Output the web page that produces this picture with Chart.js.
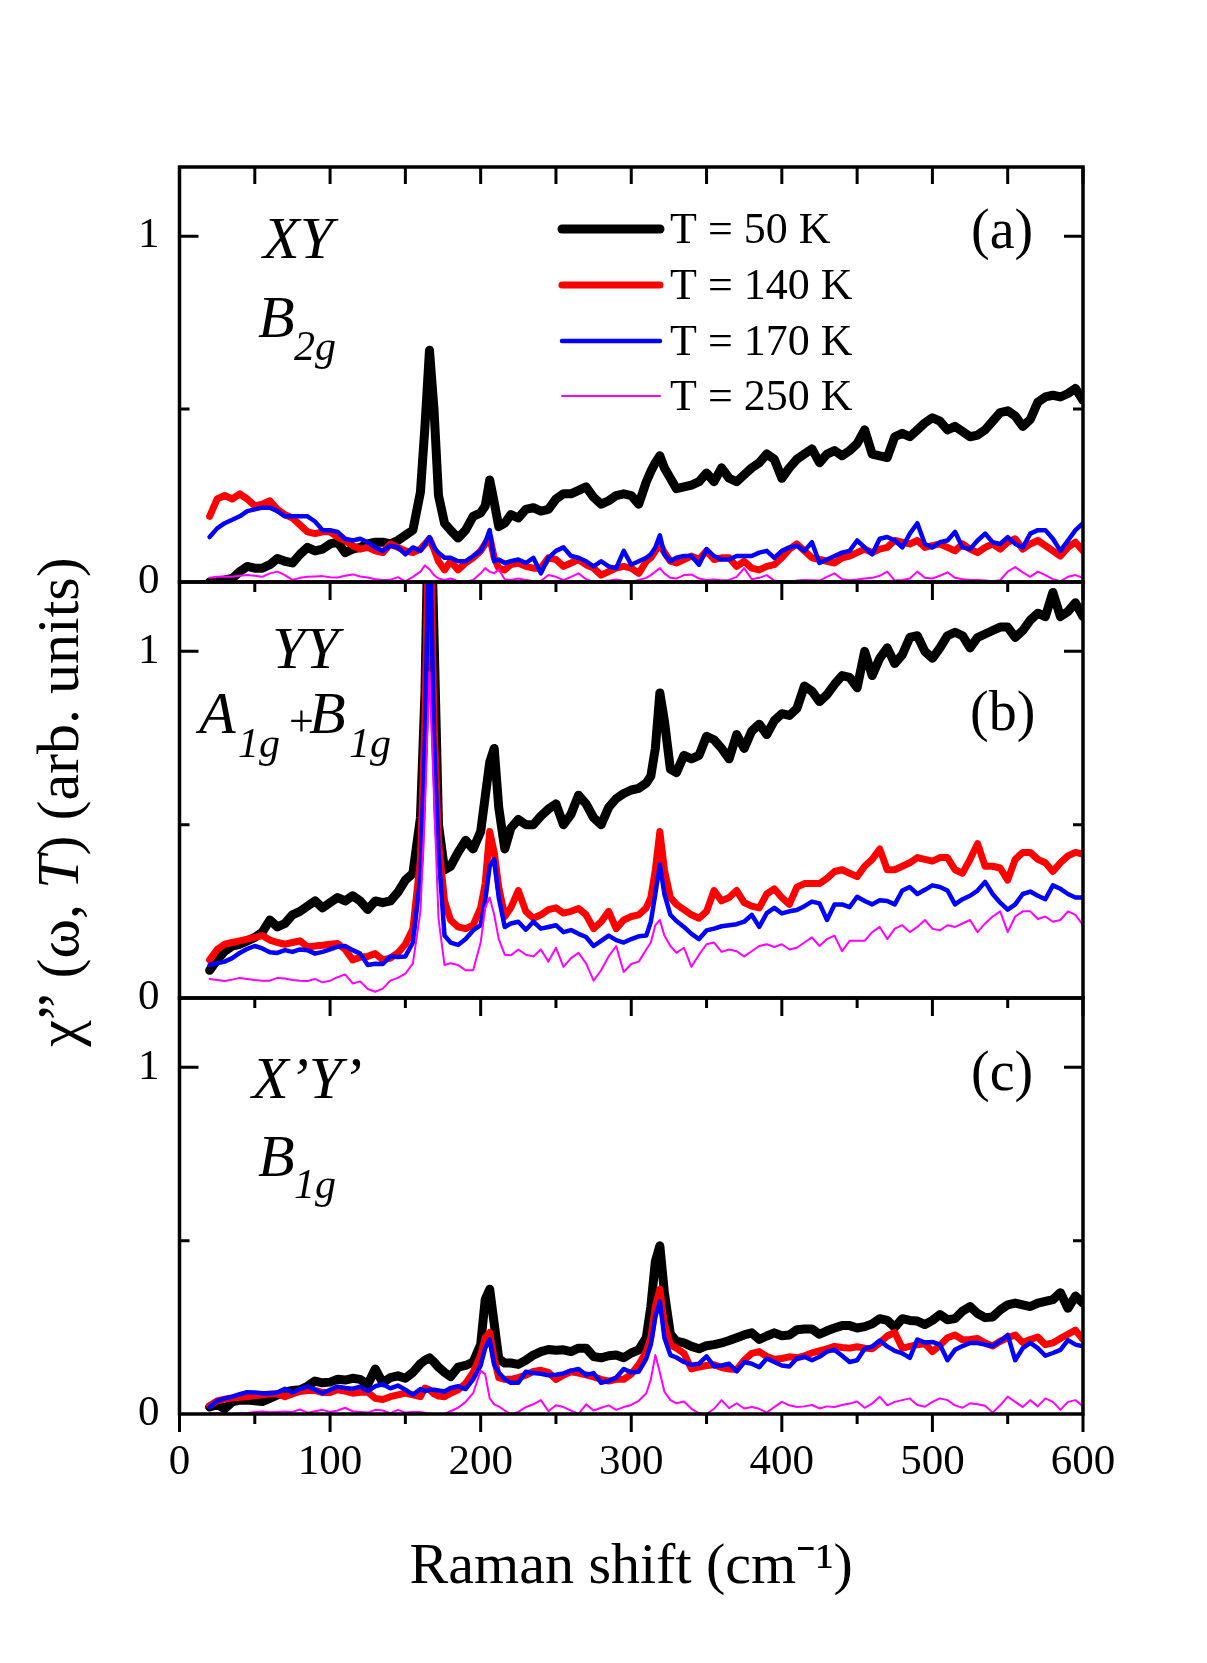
<!DOCTYPE html>
<html>
<head>
<meta charset="utf-8">
<script src="https://cdn.jsdelivr.net/npm/chart.js@4.4.1/dist/chart.umd.min.js"></script>
<style>
  html, body { margin: 0; padding: 0; background: #fff; }
  #wrap { position: relative; width: 1207px; height: 1663px; }
  #wrap canvas { position: absolute; left: 0; top: 0; }
</style>
</head>
<body>
<div id="wrap">
  <canvas id="chartA" width="1207" height="1663"></canvas>
  <canvas id="chartB" width="1207" height="1663"></canvas>
  <canvas id="chartC" width="1207" height="1663"></canvas>
</div>
<script>
// Raman shift grid (cm-1), shared by every spectrum
const ramanShift = [
  20, 25, 30, 35, 40, 45, 50, 55, 60, 65,
  70, 75, 80, 85, 90, 95, 100, 105, 110, 115,
  120, 125, 130, 135, 140, 145, 150, 155, 160,
  163, 166, 169, 172, 176,
  180, 185, 190, 195, 200,
  203, 206, 209, 212, 216,
  220, 225, 230, 235, 240, 245, 250, 255, 260, 265,
  270, 275, 280, 285, 290, 295, 300, 305, 310,
  313, 316, 319, 322, 326,
  330, 335, 340, 345, 350, 355, 360, 365, 370, 375, 380,
  385, 390, 395, 400, 405, 410, 415, 420, 425, 430, 435,
  440, 445, 450, 455, 460, 465, 470, 475, 480, 485, 490,
  495, 500, 505, 510, 515, 520, 525, 530, 535, 540, 545,
  550, 555, 560, 565, 570, 575, 580, 585, 590, 595, 600
];

const temperatures = ["T = 50 K", "T = 140 K", "T = 170 K", "T = 250 K"];

// (a) XY, B2g
const xy50 = [
  0.00, 0.003, 0.006, 0.01, 0.03, 0.045, 0.04, 0.04, 0.05, 0.068,
  0.06, 0.055, 0.08, 0.10, 0.09, 0.095, 0.11, 0.115, 0.085, 0.095,
  0.10, 0.11, 0.115, 0.115, 0.11, 0.12, 0.135, 0.15, 0.26,
  0.45, 0.67, 0.50, 0.25, 0.17,
  0.15, 0.127, 0.15, 0.19, 0.20,
  0.22, 0.295, 0.23, 0.16, 0.17,
  0.195, 0.185, 0.21, 0.215, 0.205, 0.21, 0.24, 0.255, 0.255, 0.265,
  0.275, 0.245, 0.225, 0.235, 0.25, 0.255, 0.25, 0.225, 0.29,
  0.32, 0.345, 0.365, 0.33, 0.30,
  0.27, 0.275, 0.28, 0.29, 0.315, 0.29, 0.33, 0.30, 0.29, 0.31, 0.33,
  0.345, 0.37, 0.355, 0.30, 0.33, 0.355, 0.37, 0.385, 0.345, 0.37, 0.38,
  0.365, 0.38, 0.40, 0.44, 0.37, 0.365, 0.36, 0.42, 0.43, 0.42, 0.44,
  0.46, 0.475, 0.465, 0.44, 0.45, 0.435, 0.42, 0.425, 0.44, 0.465, 0.49,
  0.495, 0.48, 0.45, 0.47, 0.52, 0.535, 0.54, 0.535, 0.545, 0.56, 0.525
];
const xy140 = [
  0.19, 0.24, 0.25, 0.24, 0.255, 0.24, 0.22, 0.225, 0.235, 0.21,
  0.195, 0.185, 0.165, 0.145, 0.14, 0.145, 0.145, 0.13, 0.12, 0.105,
  0.095, 0.10, 0.09, 0.085, 0.11, 0.10, 0.09, 0.085, 0.095,
  0.11, 0.125, 0.095, 0.06, 0.035,
  0.06, 0.035, 0.055, 0.07, 0.09,
  0.11, 0.13, 0.07, 0.04, 0.035,
  0.05, 0.055, 0.045, 0.04, 0.04, 0.07, 0.065, 0.045, 0.055, 0.065,
  0.05, 0.04, 0.02, 0.03, 0.04, 0.045, 0.04, 0.025, 0.06,
  0.07, 0.09, 0.11, 0.085, 0.06,
  0.055, 0.065, 0.075, 0.065, 0.09, 0.065, 0.07, 0.07, 0.045, 0.06, 0.04,
  0.035, 0.045, 0.05, 0.07, 0.095, 0.11, 0.09, 0.07, 0.065, 0.06, 0.055,
  0.07, 0.075, 0.085, 0.095, 0.085, 0.095, 0.10, 0.12, 0.115, 0.11, 0.12,
  0.10, 0.105, 0.11, 0.10, 0.09, 0.11, 0.095, 0.085, 0.10, 0.11, 0.095,
  0.115, 0.125, 0.095, 0.11, 0.12, 0.105, 0.09, 0.075, 0.10, 0.115, 0.09
];
const xy170 = [
  0.13, 0.155, 0.17, 0.18, 0.19, 0.205, 0.21, 0.215, 0.215, 0.205,
  0.19, 0.19, 0.19, 0.19, 0.175, 0.15, 0.15, 0.145, 0.125, 0.12,
  0.125, 0.115, 0.10, 0.09, 0.105, 0.10, 0.08, 0.10, 0.09,
  0.11, 0.13, 0.10, 0.085, 0.07,
  0.07, 0.06, 0.06, 0.075, 0.09,
  0.115, 0.15, 0.06, 0.065, 0.055,
  0.06, 0.065, 0.055, 0.07, 0.025, 0.07, 0.09, 0.10, 0.075, 0.07,
  0.06, 0.045, 0.06, 0.045, 0.04, 0.09, 0.05, 0.06, 0.07,
  0.08, 0.10, 0.135, 0.08, 0.06,
  0.07, 0.075, 0.075, 0.05, 0.095, 0.075, 0.065, 0.065, 0.075, 0.075, 0.075,
  0.085, 0.09, 0.07, 0.09, 0.10, 0.105, 0.09, 0.115, 0.055, 0.065, 0.075,
  0.085, 0.09, 0.12, 0.10, 0.08, 0.125, 0.13, 0.12, 0.10, 0.14, 0.17,
  0.11, 0.10, 0.115, 0.12, 0.145, 0.10, 0.095, 0.12, 0.14, 0.115, 0.11,
  0.13, 0.11, 0.10, 0.14, 0.15, 0.15, 0.125, 0.09, 0.12, 0.15, 0.17
];
const xy250 = [
  0.012, 0.015, 0.016, 0.015, 0.018, 0.02, 0.018, 0.015, 0.025, 0.03,
  0.02, 0.006, 0.012, 0.015, 0.016, 0.017, 0.014, 0.013, 0.018, 0.022,
  0.016, 0.013, 0.008, 0.006, 0.006, 0.014, 0.002, 0.015, 0.03,
  0.048, 0.037, 0.02, 0.01, 0.006,
  0.01, 0.002, 0.0, 0.006, 0.025,
  0.04, 0.03, 0.025, 0.036, 0.008,
  0.006, 0.01, 0.006, 0.002, 0.003, 0.02, 0.015, 0.005, 0.015, 0.025,
  0.008, 0.0, 0.002, 0.004, 0.007, 0.003, 0.0, 0.006, 0.012,
  0.02, 0.03, 0.04, 0.025, 0.012,
  0.01, 0.02, 0.022, 0.01, 0.006, 0.007, 0.005, 0.006, 0.015, 0.04, 0.008,
  0.012, 0.02, 0.004, 0.002, 0.0, 0.004, 0.006, 0.005, 0.004, 0.015, 0.025,
  0.008, 0.005, 0.007, 0.01, 0.012, 0.018, 0.03, 0.004, 0.006, 0.01, 0.03,
  0.012, 0.01, 0.018, 0.028, 0.012, 0.008, 0.006, 0.006, 0.004, 0.002, 0.005,
  0.03, 0.043, 0.028, 0.015, 0.03, 0.02, 0.008, 0.002, 0.015, 0.02, 0.012
];

// (b) YY, A1g+B1g
const yy50 = [
  0.08, 0.11, 0.135, 0.15, 0.155, 0.165, 0.175, 0.19, 0.225, 0.205,
  0.215, 0.24, 0.25, 0.265, 0.28, 0.26, 0.275, 0.29, 0.28, 0.295,
  0.28, 0.255, 0.28, 0.275, 0.28, 0.305, 0.34, 0.36, 0.52,
  0.88, 1.6, 1.05, 0.5, 0.37,
  0.38, 0.42, 0.455, 0.43, 0.48,
  0.58, 0.68, 0.72, 0.55, 0.43,
  0.49, 0.515, 0.50, 0.50, 0.525, 0.545, 0.56, 0.50, 0.53, 0.585,
  0.56, 0.52, 0.50, 0.55, 0.575, 0.59, 0.60, 0.605, 0.62,
  0.64, 0.72, 0.88, 0.80, 0.66,
  0.65, 0.70, 0.69, 0.70, 0.755, 0.745, 0.72, 0.69, 0.76, 0.72, 0.77,
  0.79, 0.76, 0.80, 0.82, 0.815, 0.835, 0.90, 0.885, 0.855, 0.875, 0.905,
  0.93, 0.925, 0.895, 1.0, 0.93, 0.98, 1.01, 0.965, 0.99, 1.04, 1.045,
  1.0, 0.98, 1.01, 1.045, 1.055, 1.045, 1.01, 1.04, 1.05, 1.06, 1.07,
  1.07, 1.04, 1.06, 1.09, 1.11, 1.10, 1.17, 1.10, 1.115, 1.14, 1.10
];
const yy140 = [
  0.11, 0.14, 0.155, 0.16, 0.165, 0.17, 0.175, 0.18, 0.167, 0.16,
  0.155, 0.16, 0.165, 0.147, 0.15, 0.152, 0.155, 0.157, 0.14, 0.11,
  0.118, 0.12, 0.128, 0.11, 0.115, 0.13, 0.155, 0.20, 0.40,
  0.80, 1.5, 0.80, 0.45, 0.28,
  0.225, 0.205, 0.20, 0.21, 0.26,
  0.33, 0.48, 0.42, 0.32, 0.235,
  0.26, 0.31, 0.25, 0.23, 0.24, 0.255, 0.26, 0.245, 0.25, 0.258,
  0.24, 0.20, 0.22, 0.25, 0.20, 0.225, 0.235, 0.24, 0.26,
  0.29, 0.37, 0.48, 0.37, 0.29,
  0.27, 0.255, 0.24, 0.23, 0.25, 0.31, 0.28, 0.29, 0.31, 0.275, 0.265,
  0.26, 0.30, 0.315, 0.29, 0.27, 0.32, 0.33, 0.33, 0.33, 0.345, 0.365,
  0.37, 0.36, 0.35, 0.38, 0.40, 0.43, 0.37, 0.37, 0.38, 0.39, 0.405,
  0.40, 0.395, 0.405, 0.405, 0.37, 0.36, 0.40, 0.445, 0.38, 0.38, 0.375,
  0.34, 0.40, 0.42, 0.42, 0.40, 0.39, 0.365, 0.39, 0.41, 0.42, 0.415
];
const yy170 = [
  0.095, 0.10, 0.105, 0.115, 0.13, 0.142, 0.15, 0.143, 0.132, 0.13,
  0.138, 0.133, 0.14, 0.138, 0.128, 0.133, 0.14, 0.148, 0.15, 0.138,
  0.128, 0.095, 0.099, 0.098, 0.12, 0.118, 0.12, 0.16, 0.35,
  0.75, 1.4, 0.75, 0.42, 0.18,
  0.16, 0.153, 0.17, 0.195, 0.21,
  0.28, 0.38, 0.40, 0.29, 0.205,
  0.215, 0.22, 0.197, 0.22, 0.20, 0.205, 0.21, 0.19, 0.196, 0.185,
  0.176, 0.15, 0.165, 0.18, 0.167, 0.16, 0.17, 0.178, 0.18,
  0.22, 0.30, 0.385, 0.30, 0.24,
  0.222, 0.205, 0.185, 0.17, 0.195, 0.20, 0.207, 0.21, 0.213, 0.22, 0.24,
  0.205, 0.245, 0.26, 0.244, 0.25, 0.254, 0.265, 0.278, 0.273, 0.225, 0.27,
  0.27, 0.262, 0.292, 0.28, 0.27, 0.282, 0.28, 0.27, 0.31, 0.32, 0.30,
  0.312, 0.325, 0.32, 0.31, 0.27, 0.285, 0.295, 0.31, 0.335, 0.30, 0.275,
  0.255, 0.27, 0.30, 0.307, 0.295, 0.285, 0.325, 0.315, 0.30, 0.29, 0.29
];
const yy250 = [
  0.055, 0.052, 0.049, 0.053, 0.058, 0.055, 0.052, 0.05, 0.05, 0.058,
  0.056, 0.052, 0.05, 0.049, 0.055, 0.045, 0.05, 0.06, 0.068, 0.042,
  0.048, 0.026, 0.018, 0.027, 0.05, 0.058, 0.07, 0.10, 0.25,
  0.55, 0.94, 0.58, 0.23, 0.095,
  0.10, 0.095, 0.08, 0.08, 0.16,
  0.26, 0.29, 0.24, 0.17, 0.125,
  0.123, 0.14, 0.125, 0.12, 0.14, 0.105, 0.145, 0.09, 0.115, 0.13,
  0.10, 0.05, 0.08, 0.12, 0.15, 0.075, 0.098, 0.105, 0.14,
  0.16, 0.21, 0.225, 0.18, 0.15,
  0.13, 0.145, 0.09, 0.125, 0.155, 0.16, 0.133, 0.14, 0.135, 0.12, 0.135,
  0.15, 0.155, 0.147, 0.155, 0.14, 0.145, 0.16, 0.175, 0.15, 0.17, 0.18,
  0.135, 0.165, 0.165, 0.165, 0.19, 0.205, 0.17, 0.20, 0.21, 0.19, 0.205,
  0.225, 0.20, 0.195, 0.21, 0.205, 0.215, 0.225, 0.19, 0.215, 0.235, 0.25,
  0.19, 0.235, 0.25, 0.25, 0.228, 0.235, 0.22, 0.225, 0.25, 0.24, 0.21
];

// (c) X'Y', B1g
const xpyp50 = [
  0.02, 0.027, 0.015, 0.035, 0.04, 0.04, 0.038, 0.036, 0.045, 0.055,
  0.063, 0.068, 0.07, 0.08, 0.095, 0.09, 0.092, 0.10, 0.098, 0.103,
  0.10, 0.085, 0.13, 0.09, 0.105, 0.11, 0.103, 0.12, 0.145,
  0.155, 0.162, 0.15, 0.135, 0.12,
  0.108, 0.135, 0.14, 0.15, 0.20,
  0.33, 0.36, 0.26, 0.16, 0.147,
  0.147, 0.143, 0.155, 0.17, 0.18, 0.186, 0.184, 0.185, 0.18, 0.19,
  0.19, 0.166, 0.162, 0.168, 0.17, 0.162, 0.176, 0.185, 0.22,
  0.31, 0.44, 0.485, 0.35, 0.23,
  0.21, 0.205, 0.195, 0.188, 0.197, 0.20, 0.205, 0.212, 0.22, 0.228, 0.234,
  0.215, 0.225, 0.234, 0.226, 0.228, 0.243, 0.245, 0.245, 0.23, 0.24, 0.248,
  0.255, 0.255, 0.248, 0.252, 0.26, 0.275, 0.27, 0.25, 0.275, 0.27, 0.268,
  0.258, 0.27, 0.287, 0.272, 0.275, 0.297, 0.31, 0.29, 0.278, 0.28, 0.30,
  0.315, 0.32, 0.315, 0.31, 0.32, 0.325, 0.33, 0.35, 0.305, 0.34, 0.32
];
const xpyp140 = [
  0.024, 0.038, 0.043, 0.046, 0.048, 0.05, 0.053, 0.055, 0.058, 0.058,
  0.05, 0.058, 0.065, 0.068, 0.068, 0.062, 0.062, 0.07, 0.066, 0.06,
  0.063, 0.063, 0.045, 0.042, 0.05, 0.055, 0.06, 0.055, 0.05,
  0.075, 0.07, 0.058, 0.052, 0.05,
  0.06, 0.07, 0.088, 0.12, 0.17,
  0.22, 0.235, 0.16, 0.105, 0.10,
  0.10, 0.105, 0.112, 0.123, 0.126, 0.12, 0.10, 0.112, 0.122, 0.118,
  0.113, 0.107, 0.10, 0.095, 0.10, 0.10, 0.115, 0.143, 0.18,
  0.22, 0.31, 0.36, 0.26, 0.20,
  0.19, 0.175, 0.13, 0.135, 0.14, 0.142, 0.134, 0.13, 0.128, 0.155, 0.175,
  0.18, 0.166, 0.158, 0.16, 0.165, 0.162, 0.168, 0.176, 0.182, 0.188, 0.195,
  0.192, 0.19, 0.194, 0.19, 0.188, 0.205, 0.225, 0.235, 0.19, 0.195, 0.20,
  0.203, 0.18, 0.198, 0.22, 0.228, 0.214, 0.215, 0.218, 0.205, 0.196, 0.21,
  0.22, 0.228, 0.206, 0.215, 0.222, 0.20, 0.205, 0.218, 0.23, 0.242, 0.215
];
const xpyp170 = [
  0.02, 0.038, 0.045, 0.05, 0.057, 0.063, 0.062, 0.06, 0.06, 0.062,
  0.073, 0.062, 0.072, 0.08, 0.07, 0.06, 0.07, 0.079, 0.075, 0.073,
  0.079, 0.066, 0.08, 0.086, 0.074, 0.082, 0.07, 0.056, 0.072,
  0.066, 0.07, 0.07, 0.068, 0.065,
  0.075, 0.08, 0.072, 0.10, 0.14,
  0.19, 0.215, 0.142, 0.12, 0.10,
  0.09, 0.09, 0.122, 0.118, 0.116, 0.112, 0.113, 0.117, 0.125, 0.13,
  0.113, 0.118, 0.09, 0.095, 0.105, 0.13, 0.12, 0.122, 0.16,
  0.20, 0.28, 0.325, 0.22, 0.17,
  0.163, 0.15, 0.142, 0.145, 0.166, 0.138, 0.14, 0.145, 0.123, 0.15, 0.145,
  0.135, 0.16, 0.15, 0.14, 0.137, 0.16, 0.165, 0.155, 0.165, 0.18, 0.185,
  0.168, 0.15, 0.155, 0.188, 0.195, 0.212, 0.195, 0.182, 0.175, 0.162, 0.215,
  0.206, 0.208, 0.20, 0.155, 0.185, 0.196, 0.205, 0.205, 0.20, 0.196, 0.21,
  0.228, 0.155, 0.19, 0.205, 0.19, 0.168, 0.176, 0.185, 0.213, 0.20, 0.195
];
const xpyp250 = [
  0.002, 0.002, 0.001, 0.0, 0.002, 0.003, 0.006, 0.007, 0.005, 0.006,
  0.007, 0.006, 0.013, 0.004, 0.008, 0.012, 0.006, 0.01, 0.018, 0.008,
  0.006, 0.004, 0.012, 0.01, 0.002, 0.012, 0.004, 0.006, 0.006,
  0.003, 0.001, 0.0, 0.001, 0.0,
  0.008, 0.018, 0.035, 0.06, 0.125,
  0.115, 0.045, 0.028, 0.022, 0.01,
  0.0, 0.006, 0.02, 0.028, 0.04, 0.008, 0.025, 0.02, 0.01, 0.0,
  0.028, 0.01, 0.018, 0.025, 0.012, 0.02, 0.026, 0.038, 0.06,
  0.10, 0.17, 0.12, 0.065, 0.04,
  0.031, 0.036, 0.015, 0.002, 0.0, 0.015, 0.04, 0.017, 0.031, 0.016, 0.02,
  0.015, 0.004, 0.02, 0.035, 0.025, 0.02, 0.022, 0.026, 0.016, 0.022, 0.02,
  0.026, 0.03, 0.036, 0.018, 0.03, 0.05, 0.025, 0.035, 0.04, 0.045, 0.026,
  0.021, 0.035, 0.045, 0.04, 0.025, 0.018, 0.031, 0.028, 0.024, 0.004, 0.025,
  0.05, 0.035, 0.02, 0.04, 0.022, 0.045, 0.035, 0.012, 0.035, 0.04, 0.022
];

// Axis ticks
const yTickValues = [0, 0.5, 1];
const yTickLabels = ["0", "", "1"];
const xTickMajor = [0, 100, 200, 300, 400, 500, 600];
const xTickMinor = [50, 150, 250, 350, 450, 550];

// Styles
const lineColors = ["#000000", "#ff0000", "#0000ff", "#ff00ff"];
const lineWidths = [9, 7, 4.5, 2];
const SERIF = '"Liberation Serif", "Times New Roman", serif';
const PAGE_W = 1207, PAGE_H = 1663;
const PLOT_LEFT = 179.5, PLOT_RIGHT = 1083;

Chart.defaults.font.family = SERIF;
Chart.defaults.color = "#000";

const panels = [
  {
    id: "chartA", top: 167, bottom: 582,
    series: [xy50, xy140, xy170, xy250],
    topTicks: true, legend: true,
    notes: [
      { text: "XY", x: 263, y: 258, font: "italic 60px " + SERIF },
      { text: "B", x: 258, y: 337, font: "italic 60px " + SERIF },
      { text: "2g", x: 294, y: 360, font: "italic 42px " + SERIF },
      { text: "(a)", x: 971, y: 248, font: "56px " + SERIF }
    ]
  },
  {
    id: "chartB", top: 582, bottom: 998,
    series: [yy50, yy140, yy170, yy250],
    yTitle: true,
    notes: [
      { text: "YY", x: 272, y: 668, font: "italic 60px " + SERIF },
      { text: "A", x: 199, y: 733, font: "italic 60px " + SERIF },
      { text: "1g", x: 238, y: 757, font: "italic 42px " + SERIF },
      { text: "+", x: 289, y: 736, font: "44px " + SERIF },
      { text: "B", x: 309, y: 733, font: "italic 60px " + SERIF },
      { text: "1g", x: 349, y: 757, font: "italic 42px " + SERIF },
      { text: "(b)", x: 970, y: 730, font: "56px " + SERIF }
    ]
  },
  {
    id: "chartC", top: 998, bottom: 1414,
    series: [xpyp50, xpyp140, xpyp170, xpyp250],
    showX: true,
    notes: [
      { text: "X\u2019Y\u2019", x: 252, y: 1098, font: "italic 60px " + SERIF },
      { text: "B", x: 258, y: 1176, font: "italic 60px " + SERIF },
      { text: "1g", x: 294, y: 1198, font: "italic 42px " + SERIF },
      { text: "(c)", x: 971, y: 1090, font: "56px " + SERIF }
    ]
  }
];

const legendRows = [229, 285, 341, 396];

// frame, inward ticks, notes, legend and y title
function makeDeco(p) {
  return {
    id: "deco" + p.id,
    afterDatasetsDraw(chart) {
      const { ctx, chartArea: a, scales: { x, y } } = chart;
      ctx.save();
      ctx.strokeStyle = "#000";
      ctx.lineWidth = 3.5;
      ctx.strokeRect(a.left, a.top, a.right - a.left, a.bottom - a.top);
      ctx.lineWidth = 3;
      ctx.beginPath();
      yTickValues.forEach((v, i) => {
        if (v === 0) return;
        const py = y.getPixelForValue(v);
        const len = yTickLabels[i] ? 19 : 10;
        ctx.moveTo(a.left, py); ctx.lineTo(a.left + len, py);
        ctx.moveTo(a.right, py); ctx.lineTo(a.right - len, py);
      });
      xTickMajor.forEach(v => {
        const px = x.getPixelForValue(v);
        ctx.moveTo(px, a.bottom); ctx.lineTo(px, a.bottom + 18);
      });
      xTickMinor.forEach(v => {
        const px = x.getPixelForValue(v);
        ctx.moveTo(px, a.bottom); ctx.lineTo(px, a.bottom + 10);
      });
      if (p.topTicks) {
        xTickMajor.concat(xTickMinor).forEach(v => {
          const px = x.getPixelForValue(v);
          ctx.moveTo(px, a.top); ctx.lineTo(px, a.top + 17);
        });
      }
      ctx.stroke();
      ctx.restore();
    },
    afterDraw(chart) {
      const ctx = chart.ctx;
      ctx.save();
      ctx.fillStyle = "#000";
      ctx.textAlign = "left";
      ctx.textBaseline = "alphabetic";
      p.notes.forEach(n => {
        ctx.font = n.font;
        ctx.fillText(n.text, n.x, n.y);
      });

      if (p.legend) {
        chart.data.datasets.forEach((ds, i) => {
          const yy = legendRows[i];
          ctx.strokeStyle = ds.borderColor;
          ctx.lineWidth = ds.borderWidth;
          ctx.lineCap = "round";
          ctx.beginPath();
          ctx.moveTo(562, yy);
          ctx.lineTo(660, yy);
          ctx.stroke();
          ctx.font = "44px " + SERIF;
          ctx.fillText(ds.label, 670, yy + 14);
        });
      }

      if (p.yTitle) {
        const runs = [
          { text: "\u03C7\u201D (\u03C9, ", font: "60px " + SERIF },
          { text: "T", font: "italic 60px " + SERIF },
          { text: ") (arb. units)", font: "60px " + SERIF }
        ];
        let total = 0;
        runs.forEach(r => { ctx.font = r.font; r.w = ctx.measureText(r.text).width; total += r.w; });
        ctx.translate(62, 802);
        ctx.rotate(-Math.PI / 2);
        ctx.textBaseline = "middle";
        let cx = -total / 2;
        runs.forEach(r => {
          ctx.font = r.font;
          ctx.fillText(r.text, cx, 0);
          cx += r.w;
        });
      }
      ctx.restore();
    }
  };
}

function createPanel(p) {
  const showX = !!p.showX;
  return new Chart(document.getElementById(p.id), {
    type: "line",
    data: {
      datasets: temperatures.map((label, i) => ({
        label: label,
        data: ramanShift.map((x, k) => ({ x: x, y: p.series[i][k] })),
        borderColor: lineColors[i],
        borderWidth: lineWidths[i],
        borderJoinStyle: "round",
        borderCapStyle: "round",
        pointRadius: 0,
        fill: false,
        tension: 0,
        order: temperatures.length - i
      }))
    },
    options: {
      responsive: false,
      animation: false,
      events: [],
      layout: {
        padding: { left: 0, right: PAGE_W - PLOT_RIGHT, top: p.top, bottom: showX ? 0 : PAGE_H - p.bottom }
      },
      plugins: {
        legend: { display: false },
        tooltip: { enabled: false }
      },
      scales: {
        x: {
          type: "linear",
          min: 0,
          max: 600,
          display: showX,
          grid: { display: false, drawTicks: false },
          border: { display: false },
          ticks: { stepSize: 100, padding: 23, maxRotation: 0, autoSkip: false, color: "#000", font: { size: 43 } },
          title: {
            display: showX,
            text: "Raman shift (cm\u207B\u00B9)",
            color: "#000",
            font: { size: 58 },
            padding: { top: 0, bottom: 60 }
          },
          afterFit: s => { if (showX) s.height = PAGE_H - p.bottom; }
        },
        y: {
          type: "linear",
          min: 0,
          max: 1.2,
          grid: { display: false, drawTicks: false },
          border: { display: false },
          afterBuildTicks: s => { s.ticks = yTickValues.map(v => ({ value: v })); },
          afterFit: s => { s.width = PLOT_LEFT; },
          ticks: {
            padding: 20,
            color: "#000",
            font: { size: 43 },
            callback: v => yTickLabels[yTickValues.indexOf(v)]
          }
        }
      }
    },
    plugins: [makeDeco(p)]
  });
}

window.charts = panels.map(createPanel);
</script>
</body>
</html>
